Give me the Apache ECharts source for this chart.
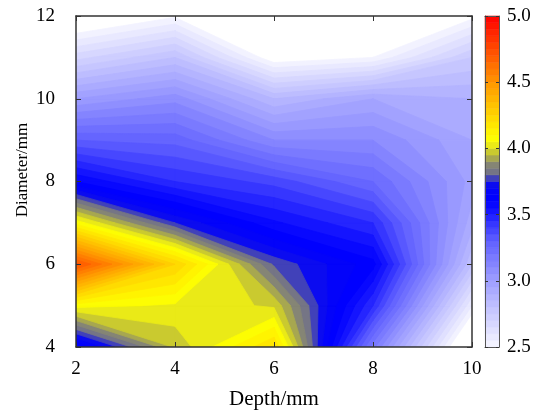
<!DOCTYPE html>
<html>
<head>
<meta charset="utf-8">
<script src="https://cdn.jsdelivr.net/npm/echarts@6/dist/echarts.min.js"></script>
<style>html,body{margin:0;padding:0;background:#fff}#c{width:535px;height:410px}</style>
</head>
<body>
<div id="c"></div>
<script>
// ---- data ----
const depths = [2, 4, 6, 8, 10];                    // Depth/mm (x)
const diameters = [4, 5, 6, 7, 8, 9, 10, 11, 12];   // Diameter/mm (y)
// values at each depth, listed for diameter 4 .. 12
const depth2  = [3.60, 4.07, 4.72, 4.08, 3.60, 3.30, 3.00, 2.68, 2.37];
const depth4  = [3.96, 4.04, 4.25, 3.75, 3.45, 3.28, 3.08, 2.80, 2.49];
const depth6  = [4.20, 3.99, 3.79, 3.56, 3.38, 3.10, 2.85, 2.45, 2.30];
const depth8  = [3.17, 3.45, 3.62, 3.45, 3.25, 3.10, 2.95, 2.50, 2.30];
const depth10 = [2.30, 2.55, 2.80, 2.92, 2.98, 2.95, 2.90, 2.75, 2.48];
const xTicks = [2, 4, 6, 8, 10];
const yTicks = [4, 6, 8, 10, 12];
const colorTicks = [2.5, 3.0, 3.5, 4.0, 4.5, 5.0];

const columns = [depth2, depth4, depth6, depth8, depth10];
const cMin = 2.5, cMax = 5.0, cStep = 0.05;
const nLevels = Math.round((cMax - cMin) / cStep);
const levels = [];
for (let k = 0; k < nLevels; k++) levels.push(Math.round((cMin + k * cStep) * 100) / 100);

// colour map
const stops = [
  [2.50, [246, 246, 255]],
  [3.00, [158, 158, 255]],
  [3.30, [96, 96, 255]],
  [3.55, [12, 12, 255]],
  [3.62, [0, 0, 255]],
  [3.72, [6, 6, 245]],
  [3.77, [60, 60, 190]],
  [3.82, [115, 115, 135]],
  [3.88, [135, 135, 115]],
  [3.95, [185, 185, 60]],
  [4.02, [232, 232, 25]],
  [4.08, [255, 255, 0]],
  [4.50, [255, 150, 0]],
  [5.00, [255, 0, 0]]
];
function colorAt(v) {
  if (v <= stops[0][0]) return 'rgb(' + stops[0][1].join(',') + ')';
  for (let s = 1; s < stops.length; s++) {
    if (v <= stops[s][0]) {
      const a = stops[s - 1], b = stops[s];
      const t = (v - a[0]) / (b[0] - a[0]);
      const c = a[1].map((q, n) => Math.round(q + t * (b[1][n] - q)));
      return 'rgb(' + c.join(',') + ')';
    }
  }
  return 'rgb(' + stops[stops.length - 1][1].join(',') + ')';
}
const bandColors = levels.map(L => colorAt(L + cStep / 2));

// one item per contour level; each paints the region value >= level over all grid cells
function renderLevel(params, api) {
  const k = params.dataIndex;
  const L = levels[k];
  const children = [];
  for (let i = 0; i < depths.length - 1; i++) {
    for (let j = 0; j < diameters.length - 1; j++) {
      const x0 = depths[i], x1 = depths[i + 1], y0 = diameters[j], y1 = diameters[j + 1];
      const cs = [
        [x0, y0, columns[i][j]],
        [x1, y0, columns[i + 1][j]],
        [x1, y1, columns[i + 1][j + 1]],
        [x0, y1, columns[i][j + 1]]
      ];
      const pts = [];
      for (let e = 0; e < 4; e++) {
        const a = cs[e], b = cs[(e + 1) % 4];
        if (a[2] >= L) pts.push(api.coord([a[0], a[1]]));
        if ((a[2] - L) * (b[2] - L) < 0) {
          const t = (L - a[2]) / (b[2] - a[2]);
          pts.push(api.coord([a[0] + t * (b[0] - a[0]), a[1] + t * (b[1] - a[1])]));
        }
      }
      if (pts.length >= 3) {
        children.push({
          type: 'polygon',
          shape: { points: pts },
          style: { fill: bandColors[k], stroke: bandColors[k], lineWidth: 0.8, lineJoin: 'round' }
        });
      }
    }
  }
  return { type: 'group', children };
}

function renderBand(params, api) {
  const lo = api.value(1);
  const p0 = api.coord([0, lo]);
  const p1 = api.coord([1, lo + cStep]);
  const c = bandColors[params.dataIndex];
  return {
    type: 'rect',
    shape: { x: p0[0], y: p1[1], width: p1[0] - p0[0], height: p0[1] - p1[1] },
    style: { fill: c, stroke: c, lineWidth: 0.6 }
  };
}

const font = 'Liberation Serif';
const lineCol = '#333';
const chart = echarts.init(document.getElementById('c'), null, { renderer: 'canvas' });

const mainX = (pos, showLabel) => ({
  type: 'value', gridIndex: 0, position: pos, min: 2, max: 10, interval: 2, z: 10,
  name: showLabel ? 'Depth/mm' : '', nameLocation: 'middle', nameGap: 42, nameMoveOverlap: false,
  nameTextStyle: { fontFamily: font, fontSize: 21, color: '#000' },
  axisLine: { show: true, onZero: false, lineStyle: { color: lineCol, width: 1.5 } },
  axisTick: { show: true, inside: true, length: 5, lineStyle: { color: lineCol } },
  axisLabel: { show: showLabel, margin: 13, fontFamily: font, fontSize: 19, color: '#000',
    formatter: v => xTicks.includes(v) ? String(v) : '' },
  splitLine: { show: false }
});
const mainY = (pos, showLabel) => ({
  type: 'value', gridIndex: 0, position: pos, min: 4, max: 12, interval: 2, z: 10,
  name: showLabel ? 'Diameter/mm' : '', nameLocation: 'middle', nameGap: 45, nameRotate: 90,
  nameMoveOverlap: false,
  nameTextStyle: { fontFamily: font, fontSize: 17, color: '#000', padding: [0, 0, 0, 23] },
  axisLine: { show: true, onZero: false, lineStyle: { color: lineCol, width: 1.5 } },
  axisTick: { show: true, inside: true, length: 5, lineStyle: { color: lineCol } },
  axisLabel: { show: showLabel, margin: 21, fontFamily: font, fontSize: 19, color: '#000',
    formatter: v => yTicks.includes(v) ? String(v) : '' },
  splitLine: { show: false }
});
const barX = pos => ({
  type: 'value', gridIndex: 1, position: pos, min: 0, max: 1, z: 10,
  axisLine: { show: true, onZero: false, lineStyle: { color: '#555', width: 1 } },
  axisTick: { show: false }, axisLabel: { show: false }, splitLine: { show: false }
});
const barY = (pos, showLabel) => ({
  type: 'value', gridIndex: 1, position: pos, min: 2.5, max: 5, interval: 0.5, z: 10,
  axisLine: { show: true, onZero: false, lineStyle: { color: '#555', width: 1 } },
  axisTick: { show: true, inside: true, length: 3, lineStyle: { color: '#333' } },
  axisLabel: { show: showLabel, margin: 8, fontFamily: font, fontSize: 19, color: '#000',
    formatter: v => colorTicks.some(t => Math.abs(t - v) < 1e-6) ? v.toFixed(1) : '' },
  splitLine: { show: false }
});

chart.setOption({
  animation: false,
  backgroundColor: '#fff',
  grid: [
    { left: 76, right: 63, top: 16, bottom: 63, outerBoundsMode: 'none', containLabel: false },
    { left: 485, width: 14, top: 16, bottom: 63, outerBoundsMode: 'none', containLabel: false }
  ],
  xAxis: [mainX('bottom', true), mainX('top', false), barX('bottom'), barX('top')],
  yAxis: [mainY('left', true), mainY('right', false), barY('right', true), barY('left', false)],
  series: [
    {
      type: 'custom', name: 'contour', xAxisIndex: 0, yAxisIndex: 0,
      data: levels.map(L => [depths[0], diameters[0], L]), encode: { x: 0, y: 1 },
      renderItem: renderLevel, clip: true, silent: true
    },
    {
      type: 'custom', name: 'colorbar', xAxisIndex: 2, yAxisIndex: 2,
      data: levels.map(L => [0, L]), encode: { x: 0, y: 1 }, renderItem: renderBand, silent: true
    }
  ]
});
</script>
</body>
</html>
